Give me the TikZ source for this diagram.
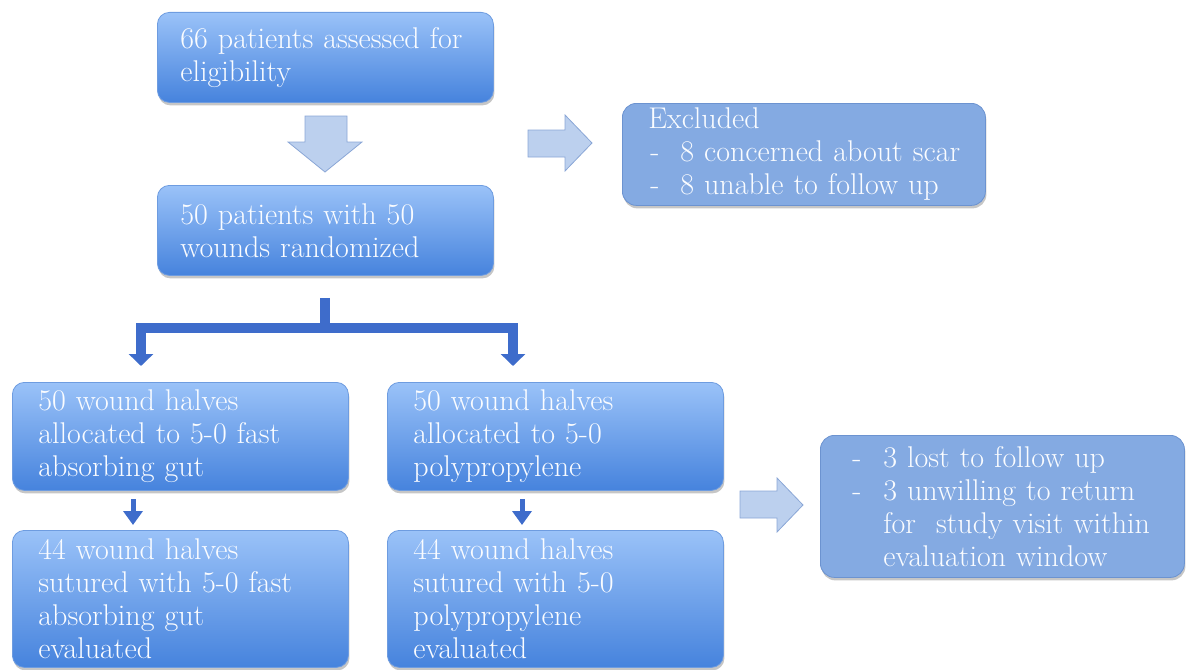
\documentclass[tikz,border=0pt]{standalone}
\usepackage{fontspec}
\usetikzlibrary{shadows,arrows.meta,calc}
\definecolor{boxtop}{HTML}{9AC2F8}
\definecolor{boxbot}{HTML}{4683DD}
\definecolor{boxedge}{HTML}{6E9CE0}
\definecolor{flatbox}{HTML}{84AAE2}
\definecolor{flatedge}{HTML}{6C93D0}
\definecolor{blkfill}{HTML}{BCD0EE}
\definecolor{blkedge}{HTML}{8AA6D6}
\definecolor{brk}{HTML}{3E6CCB}
\definecolor{txt}{HTML}{FAFCFF}
\tikzset{
  gbox/.style={rectangle, rounded corners=12pt, draw=boxedge, line width=0.8pt,
    top color=boxtop, bottom color=boxbot, anchor=north west,
    drop shadow={opacity=0.45, shadow xshift=1pt, shadow yshift=-3pt},
    text=txt, align=left, inner sep=0pt, font=\fontsize{30}{33}\selectfont},
  fbox/.style={rectangle, rounded corners=14pt, draw=flatedge, line width=0.8pt,
    fill=flatbox, anchor=north west,
    drop shadow={opacity=0.45, shadow xshift=1pt, shadow yshift=-3pt},
    text=txt, align=left, inner sep=0pt, font=\fontsize{30}{33}\selectfont},
  blk/.style={fill=blkfill, draw=blkedge, line width=0.8pt},
  bracket/.style={draw=brk, line width=10pt, -{Triangle[width=24pt,length=12pt]}},
  small/.style={draw=brk, line width=5pt, -{Triangle[width=19pt,length=14pt]}},
}
\begin{document}
\begin{tikzpicture}[x=1pt,y=-1pt]
\useasboundingbox (0,0) rectangle (1188,669);
% boxes
\node[gbox, minimum width=336pt, minimum height=90pt, text width=290pt] (b1) at (157,12)
  {66 patients assessed for\\eligibility};
\node[gbox, minimum width=336pt, minimum height=90pt, text width=290pt] (b2) at (157,185)
  {50 patients with 50\\wounds randomized};
\node[fbox, minimum width=363pt, minimum height=102pt, text width=345pt] (ex) at (622,103)
  {\hspace*{17pt}Excluded\\\hspace*{17pt}\makebox[32pt][l]{\hspace{2pt}-}8 concerned about scar\\\hspace*{17pt}\makebox[32pt][l]{\hspace{2pt}-}8 unable to follow up};
\node[gbox, minimum width=336pt, minimum height=108pt, text width=284pt] (b3l) at (12,382)
  {50 wound halves\\allocated to 5-0 fast\\absorbing gut};
\node[gbox, minimum width=336pt, minimum height=108pt, text width=284pt] (b3r) at (387,382)
  {50 wound halves\\allocated to 5-0\\polypropylene};
\node[gbox, minimum width=336pt, minimum height=137pt, text width=284pt] (b4l) at (12,530)
  {44 wound halves\\sutured with 5-0 fast\\absorbing gut\\evaluated};
\node[gbox, minimum width=336pt, minimum height=137pt, text width=284pt] (b4r) at (387,530)
  {44 wound halves\\sutured with 5-0\\polypropylene\\evaluated};
\node[fbox, minimum width=364pt, minimum height=142pt, text width=306pt] (lost) at (820,435)
  {\makebox[34pt][l]{\hspace{3pt}-}3 lost to follow up\\\makebox[34pt][l]{\hspace{3pt}-}3 unwilling to return\\\hspace{34pt}for\ \ study visit within\\\hspace{34pt}evaluation window};
% block arrows
\draw[blk] (305,116) -- (347,116) -- (347,142) -- (362,142) -- (325,172) -- (288,142) -- (305,142) -- cycle;
\draw[blk] (528,130) -- (565,130) -- (565,115) -- (592,143) -- (565,171) -- (565,157) -- (528,157) -- cycle;
\draw[blk] (740,491) -- (777,491) -- (777,478) -- (803,505) -- (777,532) -- (777,518) -- (740,518) -- cycle;
% bracket
\coordinate (st) at ([yshift=-22pt]b2.south);
\coordinate (jn) at ([yshift=-52pt]b2.south);
\coordinate (tl) at (141,366);
\coordinate (tr) at (513,366);
\draw[bracket] (st) -- (jn) -| (tl);
\draw[bracket] (jn) -| (tr);
% small arrows
\coordinate (sl0) at (133,499);
\coordinate (sl1) at (133,525);
\coordinate (sr0) at (522,499);
\coordinate (sr1) at (522,525);
\draw[small] (sl0) -- (sl1);
\draw[small] (sr0) -- (sr1);
\end{tikzpicture}
\end{document}
